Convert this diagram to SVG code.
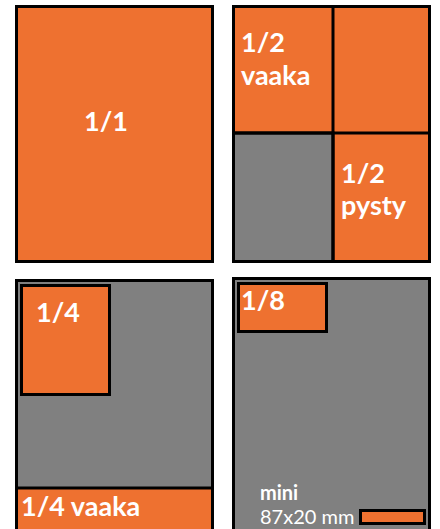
<svg xmlns="http://www.w3.org/2000/svg" width="440" height="529" viewBox="0 0 440 529">
<style>
.o{fill:#EE7130;stroke:#000;stroke-width:3}
.g{fill:#808080;stroke:#000;stroke-width:3}
.t{font-family:Lato,"Open Sans","Liberation Sans",sans-serif;font-weight:bold;font-size:27px;fill:#fff}
.s{font-family:Lato,"Open Sans","Liberation Sans",sans-serif;font-size:20px;fill:#fff}
</style>
<rect width="440" height="529" fill="#fff"/>
<g id="full">
<rect class="o" x="16.5" y="6.5" width="196" height="255"/>
<text class="t" x="106" y="131" text-anchor="middle">1/1</text>
</g>
<g id="half">
<rect class="o" x="233.5" y="6.5" width="196" height="255"/>
<rect class="g" x="233.5" y="133" width="99.5" height="128.5"/>
<line x1="333" y1="6.5" x2="333" y2="261.5" stroke="#000" stroke-width="3"/>
<line x1="233.5" y1="133" x2="333" y2="133" stroke="#000" stroke-width="3"/>
<line x1="333" y1="133" x2="429.5" y2="133" stroke="#000" stroke-width="3"/>
<text class="t" x="241" y="52">1/2</text>
<text class="t" x="241" y="85">vaaka</text>
<text class="t" x="341" y="183">1/2</text>
<text class="t" x="341" y="215">pysty</text>
</g>
<g id="quarter">
<rect class="g" x="16.5" y="280.5" width="196" height="260"/>
<rect class="o" x="16.5" y="488" width="196" height="60"/>
<rect class="o" x="21.5" y="285.5" width="88" height="109"/>
<text class="t" x="36" y="322">1/4</text>
<text class="t" x="21" y="516">1/4 vaaka</text>
</g>
<g id="eighth">
<rect class="g" x="233.5" y="278.5" width="196" height="262"/>
<rect class="o" x="238.5" y="283.5" width="88" height="48"/>
<text class="t" x="241" y="310">1/8</text>
<text class="s" x="260" y="500" font-weight="bold" font-size="21">mini</text>
<text class="s" x="260" y="524">87x20 mm</text>
<rect class="o" x="360.5" y="510.5" width="64" height="13" stroke-width="2.5"/>
</g>
</svg>
